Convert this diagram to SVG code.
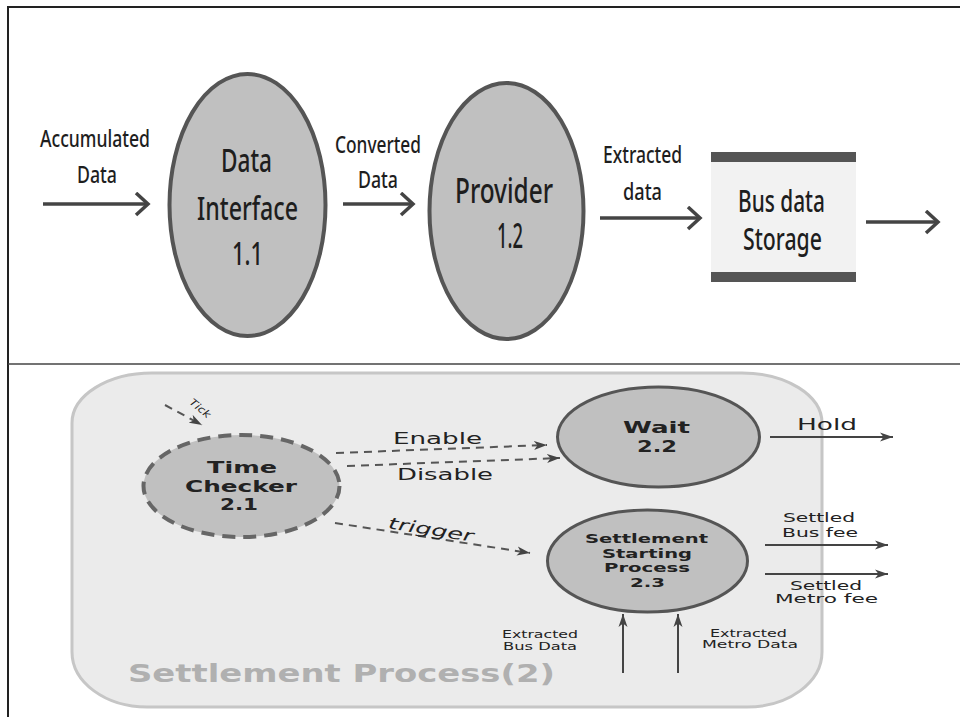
<svg xmlns="http://www.w3.org/2000/svg" width="960" height="717" viewBox="0 0 960 717">
<defs>
<marker id="open" markerUnits="userSpaceOnUse" markerWidth="20" markerHeight="26" refX="15" refY="12" orient="auto">
<path d="M3,1 L15,12 L3,23" fill="none" stroke="#444" stroke-width="3.5"/>
</marker>
<marker id="barb" markerUnits="userSpaceOnUse" markerWidth="16" markerHeight="10" refX="13" refY="5" orient="auto">
<path d="M0,0.5 L13,5 L0,9.5 L3.5,5 z" fill="#444"/>
</marker>
</defs>
<style>
.top{font-family:"Noto Sans","Liberation Sans",sans-serif;fill:#1e1e1e;text-anchor:middle;font-weight:500}
.bot{font-family:"DejaVu Sans","Verdana",sans-serif;fill:#222;text-anchor:middle}
.b{font-weight:bold}
.proc{fill:#c0c0c0;stroke:#555;stroke-width:4}
.proc2{fill:#c0c0c0;stroke:#555;stroke-width:3}
.flow{stroke:#444;stroke-width:3.5;fill:none;marker-end:url(#open)}
.dflow{stroke:#555;stroke-width:2;stroke-dasharray:8 6;fill:none;marker-end:url(#barb)}
.sflow{stroke:#444;stroke-width:2;fill:none;marker-end:url(#barb)}
</style>
<rect width="960" height="717" fill="#fff"/>
<g id="frame" stroke="#222" stroke-width="2" fill="none">
<line x1="8" y1="7" x2="960" y2="7"/>
<line x1="8" y1="6" x2="8" y2="717"/>
<line x1="8" y1="364" x2="960" y2="364" stroke="#444" stroke-width="1.5"/>
</g>

<g id="connectors">
<line class="flow" x1="43" y1="204" x2="148" y2="204"/>
<line class="flow" x1="343" y1="204" x2="413" y2="204"/>
<line class="flow" x1="600" y1="218" x2="700" y2="218"/>
<line class="flow" x1="866" y1="222" x2="938" y2="222"/>
</g>

<g id="lbl-accumulated">
<text class="top" x="95" y="147" font-size="24" textLength="110" lengthAdjust="spacingAndGlyphs">Accumulated</text>
<text class="top" x="97" y="183" font-size="24" textLength="40" lengthAdjust="spacingAndGlyphs">Data</text>
</g>
<g id="node-1-1">
<ellipse class="proc" cx="247.5" cy="205" rx="78" ry="131"/>
<text class="top" x="246.5" y="172" font-size="33" textLength="51" lengthAdjust="spacingAndGlyphs">Data</text>
<text class="top" x="247.5" y="220" font-size="33" textLength="101" lengthAdjust="spacingAndGlyphs">Interface</text>
<text class="top" x="247.5" y="265" font-size="33" textLength="31" lengthAdjust="spacingAndGlyphs">1.1</text>
</g>
<g id="lbl-converted">
<text class="top" x="378" y="153" font-size="24" textLength="86" lengthAdjust="spacingAndGlyphs">Converted</text>
<text class="top" x="378" y="188" font-size="24" textLength="40" lengthAdjust="spacingAndGlyphs">Data</text>
</g>
<g id="node-1-2">
<ellipse class="proc" cx="506.5" cy="211" rx="77" ry="128"/>
<text class="top" x="504" y="203" font-size="34" textLength="98" lengthAdjust="spacingAndGlyphs">Provider</text>
<text class="top" x="510" y="248" font-size="34" textLength="26" lengthAdjust="spacingAndGlyphs">1.2</text>
</g>
<g id="lbl-extracted">
<text class="top" x="642.5" y="163" font-size="24" textLength="79" lengthAdjust="spacingAndGlyphs">Extracted</text>
<text class="top" x="642.5" y="200" font-size="24" textLength="39" lengthAdjust="spacingAndGlyphs">data</text>
</g>
<g id="store-bus">
<rect x="711" y="160" width="145" height="114" fill="#f2f2f2"/>
<rect x="711" y="152" width="145" height="10" fill="#555"/>
<rect x="711" y="272" width="145" height="10" fill="#555"/>
<text class="top" x="781.5" y="212" font-size="30" textLength="87" lengthAdjust="spacingAndGlyphs">Bus data</text>
<text class="top" x="782.5" y="250" font-size="30" textLength="79" lengthAdjust="spacingAndGlyphs">Storage</text>
</g>

<g id="boundary-2">
<path d="M152,373 H742 A80,50 0 0 1 822,423 V652 A75,55 0 0 1 747,707 H147 A75,55 0 0 1 72,652 V423 A80,50 0 0 1 152,373 Z" fill="#ebebeb" stroke="#c6c6c6" stroke-width="3"/>
<text class="bot b" x="341.5" y="682" font-size="24" style="fill:#b0b0b0" textLength="427" lengthAdjust="spacingAndGlyphs">Settlement Process(2)</text>
</g>

<g id="connectors-2">
<line class="dflow" x1="165" y1="405" x2="202" y2="425"/>
<line class="dflow" x1="336" y1="453" x2="547" y2="445"/>
<line class="dflow" x1="347" y1="466" x2="560" y2="458"/>
<line class="dflow" x1="335" y1="523" x2="530" y2="553"/>
<line class="sflow" x1="770" y1="437" x2="893" y2="437"/>
<line class="sflow" x1="765" y1="545" x2="888" y2="545"/>
<line class="sflow" x1="765" y1="574" x2="888" y2="574"/>
<line class="sflow" x1="623" y1="673" x2="623" y2="614"/>
<line class="sflow" x1="678" y1="673" x2="678" y2="614"/>
</g>

<g id="labels-2">
<text class="bot" x="0" y="0" font-size="10" font-style="italic" transform="translate(198,411) rotate(40)" textLength="24" lengthAdjust="spacingAndGlyphs">Tick</text>
<text class="bot" x="437.5" y="444" font-size="16" textLength="89" lengthAdjust="spacingAndGlyphs">Enable</text>
<text class="bot" x="445" y="480" font-size="16" textLength="96" lengthAdjust="spacingAndGlyphs">Disable</text>
<text class="bot" x="0" y="0" font-size="16" font-style="italic" transform="translate(430,535) rotate(9)" textLength="86" lengthAdjust="spacingAndGlyphs">trigger</text>
<text class="bot" x="827" y="430" font-size="16" textLength="60" lengthAdjust="spacingAndGlyphs">Hold</text>
<text class="bot" x="819" y="522" font-size="12" textLength="72" lengthAdjust="spacingAndGlyphs">Settled</text>
<text class="bot" x="820" y="537" font-size="12" textLength="76" lengthAdjust="spacingAndGlyphs">Bus fee</text>
<text class="bot" x="826" y="590" font-size="12" textLength="72" lengthAdjust="spacingAndGlyphs">Settled</text>
<text class="bot" x="826.5" y="603" font-size="12" textLength="103" lengthAdjust="spacingAndGlyphs">Metro fee</text>
<text class="bot" x="540" y="638" font-size="10" textLength="76" lengthAdjust="spacingAndGlyphs">Extracted</text>
<text class="bot" x="540" y="650" font-size="10" textLength="74" lengthAdjust="spacingAndGlyphs">Bus Data</text>
<text class="bot" x="748.5" y="637" font-size="10" textLength="77" lengthAdjust="spacingAndGlyphs">Extracted</text>
<text class="bot" x="750" y="648" font-size="10" textLength="96" lengthAdjust="spacingAndGlyphs">Metro Data</text>
</g>

<g id="node-2-1">
<ellipse cx="241.5" cy="486" rx="98" ry="51" fill="#c0c0c0" stroke="#666" stroke-width="4" stroke-dasharray="13 8"/>
<text class="bot b" x="242" y="473" font-size="16" textLength="70" lengthAdjust="spacingAndGlyphs">Time</text>
<text class="bot b" x="241" y="492" font-size="16" textLength="112" lengthAdjust="spacingAndGlyphs">Checker</text>
<text class="bot b" x="239" y="510" font-size="16" textLength="38" lengthAdjust="spacingAndGlyphs">2.1</text>
</g>
<g id="node-2-2">
<ellipse class="proc2" cx="658.5" cy="437" rx="101" ry="50"/>
<text class="bot b" x="656.5" y="433" font-size="16" textLength="67" lengthAdjust="spacingAndGlyphs">Wait</text>
<text class="bot b" x="657" y="452" font-size="16" textLength="40" lengthAdjust="spacingAndGlyphs">2.2</text>
</g>
<g id="node-2-3">
<ellipse class="proc2" cx="647.5" cy="561" rx="100" ry="51"/>
<text class="bot b" x="646.5" y="543" font-size="13" textLength="123" lengthAdjust="spacingAndGlyphs">Settlement</text>
<text class="bot b" x="647" y="558" font-size="13" textLength="90" lengthAdjust="spacingAndGlyphs">Starting</text>
<text class="bot b" x="647" y="572" font-size="13" textLength="86" lengthAdjust="spacingAndGlyphs">Process</text>
<text class="bot b" x="647.5" y="587" font-size="13" textLength="35" lengthAdjust="spacingAndGlyphs">2.3</text>
</g>
</svg>
